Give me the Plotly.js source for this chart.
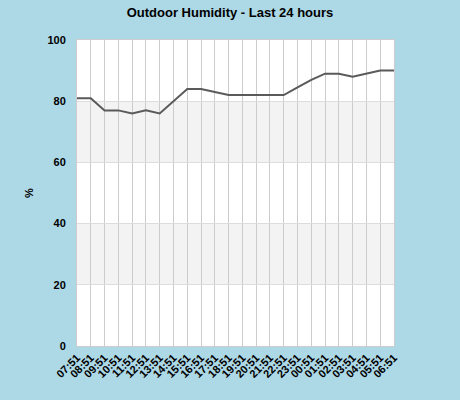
<!DOCTYPE html>
<html>
<head>
<meta charset="utf-8">
<script src="https://cdn.plot.ly/plotly-3.0.1.min.js"></script>
<style>html,body{margin:0;padding:0;background:#add8e6;}</style>
</head>
<body>
<div id="chart" style="width:460px;height:400px;"></div>
<script>
const timeLabels = ["07:51","08:51","09:51","10:51","11:51","12:51","13:51","14:51","15:51","16:51","17:51","18:51","19:51","20:51","21:51","22:51","23:51","00:51","01:51","02:51","03:51","04:51","05:51","06:51"];
const humidity = [81,81,77,77,76,77,76,80,84,84,83,82,82,82,82,82,84.5,87,89,89,88,89,90,90];
const yTicks = [0,20,40,60,80,100];
const bands = [[20,40],[60,80]];

const xIdx = timeLabels.map((_, i) => i);
const font = {family: "Liberation Sans, Arial, sans-serif", color: "#000"};

const shapes = bands.map(b => ({
  type: "rect", xref: "paper", yref: "y", x0: 0, x1: 1, y0: b[0], y1: b[1],
  fillcolor: "#f3f3f3", line: {width: 0}, layer: "below"
}));

Plotly.newPlot("chart", [{
  x: xIdx, y: humidity, type: "scatter", mode: "lines",
  line: {color: "#5a5a5a", width: 2}, hoverinfo: "skip"
}], {
  width: 460, height: 400,
  paper_bgcolor: "#add8e6", plot_bgcolor: "#ffffff",
  margin: {l: 77, r: 66, t: 40, b: 54},
  title: {text: "<b>Outdoor Humidity - Last 24 hours</b>", font: Object.assign({size: 13}, font), x: 0.5, xanchor: "center", y: 0.97, yanchor: "middle"},
  showlegend: false,
  shapes: shapes,
  xaxis: {
    range: [0, 23], tickvals: xIdx, ticktext: timeLabels.map(t => "<b>" + t + "</b>"),
    tickangle: -45, tickfont: Object.assign({size: 11}, font),
    showgrid: true, gridcolor: "#cccccc", gridwidth: 1,
    zeroline: false, showline: true, mirror: true, linecolor: "#cccccc", linewidth: 1,
    ticks: "", fixedrange: true
  },
  yaxis: {
    range: [0, 100], tickvals: yTicks, ticktext: yTicks.map(v => "<b>" + v + "</b>"),
    tickfont: Object.assign({size: 11}, font), ticklabelstandoff: 8,
    showgrid: true, gridcolor: "#dddddd", gridwidth: 1,
    zeroline: false, showline: true, mirror: true, linecolor: "#cccccc", linewidth: 1,
    ticks: "",
    title: {text: "<b>%</b>", font: Object.assign({size: 11}, font), standoff: 11},
    fixedrange: true
  }
}, {staticPlot: true, displayModeBar: false});
</script>
</body>
</html>
